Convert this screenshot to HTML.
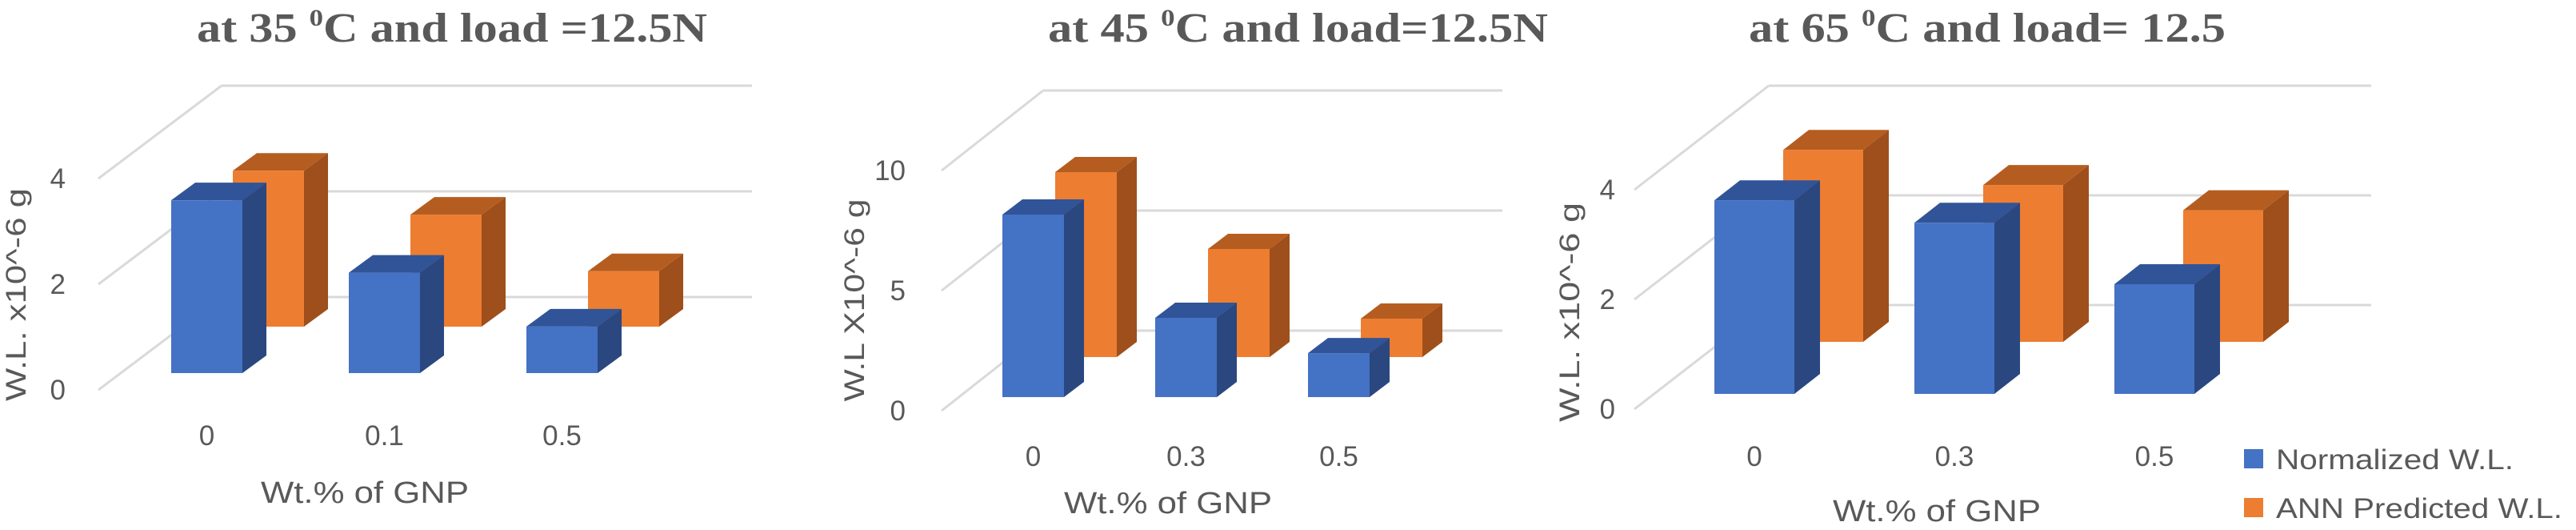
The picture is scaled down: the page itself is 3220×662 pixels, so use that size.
<!DOCTYPE html>
<html><head><meta charset="utf-8">
<style>
html,body{margin:0;padding:0;background:#fff;}
svg{display:block;}
text{font-family:"Liberation Sans",sans-serif;fill:#595959;}
.title{font-family:"Liberation Serif",serif;font-weight:bold;font-size:52px;}
</style></head>
<body>
<svg id="chart" width="3220" height="662" viewBox="0 0 3220 662" xmlns="http://www.w3.org/2000/svg">
  <text class="title" x="246" y="52" textLength="638" lengthAdjust="spacingAndGlyphs">at 35 <tspan font-size="30" dy="-20">0</tspan><tspan dy="20">C and load =12.5N</tspan></text>
  <text class="title" x="1310" y="52" textLength="625" lengthAdjust="spacingAndGlyphs">at 45 <tspan font-size="30" dy="-20">0</tspan><tspan dy="20">C and load=12.5N</tspan></text>
  <text class="title" x="2186" y="52" textLength="596" lengthAdjust="spacingAndGlyphs">at 65 <tspan font-size="30" dy="-20">0</tspan><tspan dy="20">C and load= 12.5</tspan></text>

  <text transform="translate(32,368) rotate(-90)" text-anchor="middle" font-size="35" textLength="266" lengthAdjust="spacingAndGlyphs">W.L. x10^-6 g</text>
  <text transform="translate(1080,375) rotate(-90)" text-anchor="middle" font-size="35" textLength="253" lengthAdjust="spacingAndGlyphs">W.L X10^-6 g</text>
  <text transform="translate(1974,390) rotate(-90)" text-anchor="middle" font-size="35" textLength="274" lengthAdjust="spacingAndGlyphs">W.L. x10^-6 g</text>

  <text x="456" y="628" text-anchor="middle" font-size="38" textLength="260" lengthAdjust="spacingAndGlyphs">Wt.% of GNP</text>
  <text x="1460" y="641" text-anchor="middle" font-size="38" textLength="260" lengthAdjust="spacingAndGlyphs">Wt.% of GNP</text>
  <text x="2421" y="651" text-anchor="middle" font-size="38" textLength="260" lengthAdjust="spacingAndGlyphs">Wt.% of GNP</text>

  <g>
    <rect x="2805" y="561" width="24" height="24" fill="#4472C4"/>
    <text x="2845" y="586" font-size="35" textLength="297" lengthAdjust="spacingAndGlyphs">Normalized W.L.</text>
    <rect x="2805" y="622" width="24" height="24" fill="#ED7D31"/>
    <text x="2845" y="647" font-size="35" textLength="358" lengthAdjust="spacingAndGlyphs">ANN Predicted W.L.</text>
  </g>
</svg>
<script>
// ---- data ----
const c1Categories = ["0", "0.1", "0.5"];
const c1Normalized = [3.27, 1.9, 0.88];
const c1Predicted = [2.95, 2.12, 1.05];
const c1Ticks = [0, 2, 4];

const c2Categories = ["0", "0.3", "0.5"];
const c2Normalized = [7.6, 3.3, 1.83];
const c2Predicted = [7.7, 4.5, 1.6];
const c2Ticks = [0, 5, 10];

const c3Categories = ["0", "0.3", "0.5"];
const c3Normalized = [3.53, 3.12, 2.0];
const c3Predicted = [3.5, 2.86, 2.4];
const c3Ticks = [0, 2, 4];

const NS = "http://www.w3.org/2000/svg";
const svg = document.getElementById("chart");
function mk(tag, attrs) {
  const e = document.createElementNS(NS, tag);
  for (const k in attrs) e.setAttribute(k, attrs[k]);
  svg.appendChild(e);
  return e;
}

function drawChart(id, g, cats, blue, orange, ticks) {
  const yFront = v => g.front0 - v * g.u;
  ticks.forEach(t => {
    const yf = yFront(t), yb = yf + g.backDy;
    const d = mk("line", {x1: g.frontX, y1: yf, x2: g.backX, y2: yb, stroke: "#d9d9d9", "stroke-width": 3});
    
    
    const b = mk("line", {x1: g.backX, y1: yb, x2: g.backEnd, y2: yb, stroke: "#d9d9d9", "stroke-width": 3});
    
    
    const tl = mk("text", {x: g.tickX, y: yf + 12, "text-anchor": "end", "font-size": 35});
    tl.textContent = String(t);
    
    
  });
  function bar(x, base, v, cols, name) {
    const h = v * g.u, top = base - h;
    const grp = document.createElementNS(NS, "g");
    
    
    svg.appendChild(grp);
    const add = (tag, attrs) => { const e = document.createElementNS(NS, tag); for (const k in attrs) e.setAttribute(k, attrs[k]); grp.appendChild(e); };
    add("polygon", {points: `${x+g.w},${top} ${x+g.w+g.bdx},${top+g.bdy} ${x+g.w+g.bdx},${base+g.bdy} ${x+g.w},${base}`, fill: cols[1]});
    add("polygon", {points: `${x},${top} ${x+g.bdx},${top+g.bdy} ${x+g.w+g.bdx},${top+g.bdy} ${x+g.w},${top}`, fill: cols[2]});
    add("rect", {x: x, y: top, width: g.w, height: h, fill: cols[0]});
  }
  orange.forEach((v, i) => bar(g.x0 + i * g.step + g.sdx, g.base + g.sdy, v, ["#ED7D31", "#9E4F1B", "#B55D20"], id + "-bar-ann-" + cats[i]));
  blue.forEach((v, i) => bar(g.x0 + i * g.step, g.base, v, ["#4472C4", "#2A4780", "#305497"], id + "-bar-normalized-" + cats[i]));
  cats.forEach((c, i) => {
    const t = mk("text", {x: g.x0 + i * g.step + g.w / 2, y: g.labelY, "text-anchor": "middle", "font-size": 35});
    t.textContent = c;
    
    
  });
}

drawChart("chart1", {front0: 487, u: 66, frontX: 123, backX: 277, backDy: -116, backEnd: 940, tickX: 82,
  x0: 214, step: 222, w: 89, base: 466, sdx: 77, sdy: -58, bdx: 30, bdy: -22, labelY: 556}, c1Categories, c1Normalized, c1Predicted, c1Ticks);
drawChart("chart2", {front0: 513, u: 30, frontX: 1177, backX: 1304, backDy: -100, backEnd: 1878, tickX: 1132,
  x0: 1253, step: 191, w: 77, base: 496, sdx: 66, sdy: -50, bdx: 25, bdy: -19, labelY: 582}, c2Categories, c2Normalized, c2Predicted, c2Ticks);
drawChart("chart3", {front0: 511, u: 68.5, frontX: 2043, backX: 2211, backDy: -130, backEnd: 2964, tickX: 2019,
  x0: 2143, step: 250, w: 100, base: 492, sdx: 86, sdy: -65, bdx: 32, bdy: -25, labelY: 582}, c3Categories, c3Normalized, c3Predicted, c3Ticks);
</script>
</body></html>
